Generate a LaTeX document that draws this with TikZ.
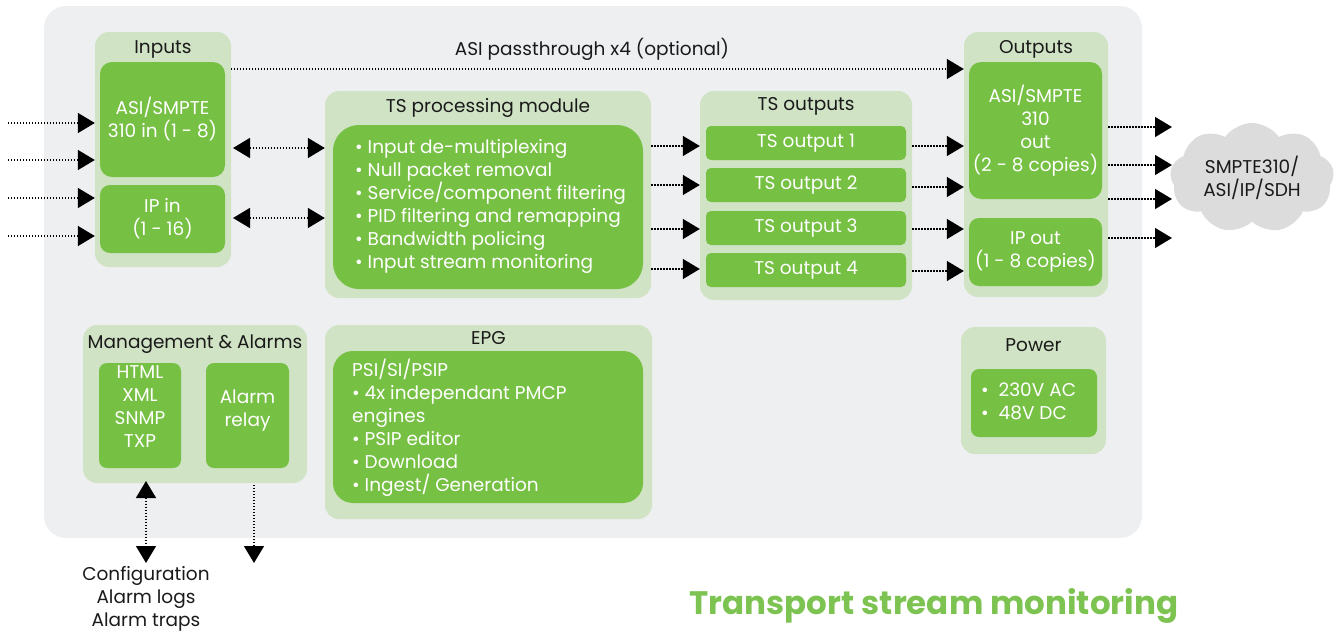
\documentclass[tikz,border=0pt]{standalone}
\usepackage{fontspec}
\setmainfont{Poppins}
\usetikzlibrary{arrows.meta,shapes.symbols}
\definecolor{bggray}{HTML}{EEEFF1}
\definecolor{lgreen}{HTML}{D0E3C4}
\definecolor{dgreen}{HTML}{76C043}
\definecolor{ttlgreen}{HTML}{7DC352}
\definecolor{cloudgray}{HTML}{DCDCDC}
\definecolor{txt}{HTML}{1A1A1A}
\tikzset{
  grp/.style={fill=lgreen,rounded corners=14pt,inner sep=0pt},
  inbox/.style={fill=dgreen,text=white,inner sep=0pt,align=center,font=\fontsize{18.5}{23}\selectfont},
  intext/.style={text=white,inner sep=0pt,align=left,anchor=west,font=\fontsize{18.5}{23}\selectfont},
  ttl/.style={text=txt,inner sep=0pt,font=\fontsize{18.5}{23}\selectfont},
  dotline/.style={line width=1.4pt,dash pattern=on 1.4pt off 1.6pt,black},
  arr/.style={dotline,-{Triangle[length=17pt,width=20pt]}},
  darr/.style={dotline,{Triangle[length=17pt,width=20pt]}-{Triangle[length=17pt,width=20pt]}},
}
\begin{document}
\begin{tikzpicture}[x=1pt,y=-1pt]
\useasboundingbox (0,0) rectangle (1344,632);
% outer panel
\node[fill=bggray,rounded corners=22pt,minimum width=1098pt,minimum height=532pt,inner sep=0pt] (panel) at (593,272) {};
% Inputs
\node[grp,minimum width=136pt,minimum height=235pt] (inputs) at (163,149.5) {};
\node[ttl] (inputsT) at (163,49) {Inputs};
\node[inbox,rounded corners=12pt,minimum width=125pt,minimum height=115pt] (asiin) at (162.5,119.5) {ASI/SMPTE\\310 in (1 - 8)};
\node[inbox,rounded corners=10pt,minimum width=125pt,minimum height=68pt] (ipin) at (162.5,219) {IP in\\(1 - 16)};
% TS processing
\node[grp,minimum width=326pt,minimum height=207pt] (tsproc) at (488,194.5) {};
\node[ttl] (tsprocT) at (488,108) {TS processing module};
\node[inbox,rounded corners=26pt,minimum width=310pt,minimum height=164pt] (tspin) at (488,207) {};
\node[intext] (tsptext) at (355,206) {• Input de-multiplexing\\• Null packet removal\\• Service/component filtering\\• PID filtering and remapping\\• Bandwidth policing\\• Input stream monitoring};
% TS outputs
\node[grp,minimum width=212pt,minimum height=209pt] (tsout) at (806,195.5) {};
\node[ttl] (tsoutT) at (806,106) {TS outputs};
\node[inbox,rounded corners=5pt,minimum width=200pt,minimum height=34pt] (tso1) at (806,143) {TS output 1};
\node[inbox,rounded corners=5pt,minimum width=200pt,minimum height=34pt] (tso2) at (806,185) {TS output 2};
\node[inbox,rounded corners=5pt,minimum width=200pt,minimum height=34pt] (tso3) at (806,228) {TS output 3};
\node[inbox,rounded corners=5pt,minimum width=200pt,minimum height=34pt] (tso4) at (806,270) {TS output 4};
% Outputs
\node[grp,minimum width=144pt,minimum height=265pt] (outputs) at (1036,164.5) {};
\node[ttl] (outputsT) at (1036,49) {Outputs};
\node[inbox,rounded corners=12pt,minimum width=133pt,minimum height=137pt] (asiout) at (1035.5,130.5) {ASI/SMPTE\\310\\out\\(2 - 8 copies)};
\node[inbox,rounded corners=10pt,minimum width=133pt,minimum height=68pt] (ipout) at (1035.5,252) {IP out\\(1 - 8 copies)};
% cloud
\node[cloud,cloud puffs=9,cloud puff arc=110,aspect=1.6,fill=cloudgray,minimum width=164pt,minimum height=110pt,inner sep=0pt,align=center,text=txt,font=\fontsize{18.5}{23}\selectfont] (cloud) at (1252,178) {SMPTE310/\\ASI/IP/SDH};
% Management
\node[grp,minimum width=224pt,minimum height=158pt] (mgmt) at (195,404) {};
\node[ttl] (mgmtT) at (195,344) {Management \& Alarms};
\node[inbox,rounded corners=8pt,minimum width=82pt,minimum height=105pt] (html) at (140,415.5) {HTML\\XML\\SNMP\\TXP\\[-6pt]};
\node[inbox,rounded corners=8pt,minimum width=83pt,minimum height=105pt] (relay) at (247.5,415.5) {Alarm\\relay\\[-8pt]};
% EPG
\node[grp,minimum width=327pt,minimum height=194pt] (epg) at (488.5,422) {};
\node[ttl] (epgT) at (488.5,338) {EPG};
\node[inbox,rounded corners=20pt,minimum width=310pt,minimum height=152pt] (epgin) at (488,427) {};
\node[intext] (epgtext) at (352,428) {PSI/SI/PSIP\\• 4x independant PMCP\\engines\\• PSIP editor\\• Download\\• Ingest/ Generation};
% Power
\node[grp,minimum width=145pt,minimum height=127pt] (power) at (1033.5,390.5) {};
\node[ttl] (powerT) at (1033.5,345) {Power};
\node[inbox,rounded corners=8pt,minimum width=126pt,minimum height=68pt] (powin) at (1034,403) {};
\node[intext] (powtext) at (981,401) {•\ \ 230V AC\\•\ \ 48V DC};
% labels
\node[ttl] (passT) at (592,49) {ASI passthrough x4 (optional)};
\node[ttl,align=center] (cfg) at (146,599) {Configuration\\Alarm logs\\Alarm traps};
\node[text=ttlgreen,inner sep=0pt,font=\fontsize{32.5}{38}\selectfont\bfseries] (title) at (934,606) {Transport stream monitoring};
% coordinates
\foreach \i/\y in {1/123,2/160,3/198,4/236}{\coordinate (in\i) at (8,\y);}
\coordinate (b1) at (233,148); \coordinate (b2) at (233,218);
\coordinate (pass) at (231,69);
\foreach \i/\y in {1/127,2/165,3/199,4/238}{\coordinate (oc\i) at (1172,\y);}
\coordinate (cfgtop) at (146,481); \coordinate (cfgbot) at (146,563);
\coordinate (rltop) at (254,485); \coordinate (rlbot) at (254,563);
% connectors
\foreach \i in {1,2,3,4}{\draw[arr] (in\i) -- (in\i -| inputs.west);}
\draw[darr] (b1) -- (b1 -| tsproc.west);
\draw[darr] (b2) -- (b2 -| tsproc.west);
\draw[arr] (pass) -- (pass -| outputs.west);
\foreach \y in {146,185,229,269}{\coordinate (t) at (0,\y); \draw[arr] (t -| tsproc.east) -- (t -| tsout.west);}
\foreach \y in {146,187,229,271}{\coordinate (t) at (0,\y); \draw[arr] (t -| tsout.east) -- (t -| outputs.west);}
\foreach \i in {1,2,3,4}{\draw[arr] (oc\i -| outputs.east) -- (oc\i);}
\draw[darr] (cfgtop) -- (cfgbot);
\draw[arr] (rltop) -- (rlbot);
\end{tikzpicture}
\end{document}
